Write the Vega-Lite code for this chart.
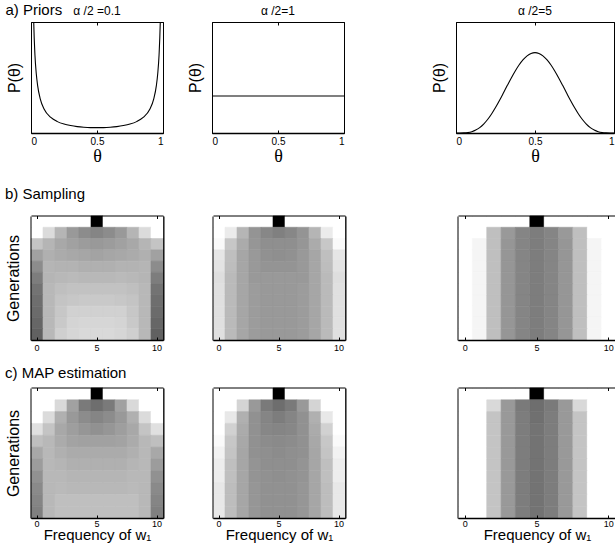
{
"$schema": "https://vega.github.io/schema/vega-lite/v6.json",
"background": "white",
"padding": {"left": 5, "top": 3, "right": 0, "bottom": 0},
"config": {
  "view": {"stroke": "black", "strokeWidth": 1},
  "font": "Liberation Sans",
  "axis": {"labelFont": "Liberation Sans", "labelFontSize": 10, "titleFont": "Liberation Sans", "titleFontWeight": "normal", "titleFontSize": 16, "domainColor": "black", "tickColor": "black", "labelColor": "black", "titleColor": "black", "grid": false, "zindex": 1},
  "axisX": {"domainWidth": 1.6, "tickSize": -3, "labelPadding": 6},
  "axisTop": {"domainWidth": 1},
  "title": {"font": "Liberation Sans", "fontWeight": "normal", "color": "black"}
},
"datasets": {
"prior01": [
{"theta":0.001,"density":25.4},{"theta":0.002,"density":13.6},{"theta":0.005,"density":6.0},{"theta":0.01,"density":3.23},{"theta":0.015,"density":2.25},{"theta":0.02,"density":1.75},{"theta":0.03,"density":1.22},{"theta":0.04,"density":0.954},{"theta":0.05,"density":0.787},{"theta":0.07,"density":0.593},{"theta":0.1,"density":0.443},{"theta":0.15,"density":0.324},{"theta":0.2,"density":0.264},{"theta":0.25,"density":0.229},{"theta":0.3,"density":0.207},{"theta":0.35,"density":0.192},{"theta":0.4,"density":0.183},{"theta":0.45,"density":0.178},{"theta":0.5,"density":0.177},{"theta":0.55,"density":0.178},{"theta":0.6,"density":0.183},{"theta":0.65,"density":0.192},{"theta":0.7,"density":0.207},{"theta":0.75,"density":0.229},{"theta":0.8,"density":0.264},{"theta":0.85,"density":0.324},{"theta":0.9,"density":0.443},{"theta":0.93,"density":0.593},{"theta":0.95,"density":0.787},{"theta":0.96,"density":0.954},{"theta":0.97,"density":1.22},{"theta":0.98,"density":1.75},{"theta":0.985,"density":2.25},{"theta":0.99,"density":3.23},{"theta":0.995,"density":6.0},{"theta":0.998,"density":13.6},{"theta":0.999,"density":25.4}
],
"prior1": [{"theta":0,"density":1},{"theta":1,"density":1}],
"prior5": [
{"theta":0,"density":0},{"theta":0.025,"density":0.0002},{"theta":0.05,"density":0.0032},{"theta":0.075,"density":0.0146},{"theta":0.1,"density":0.0413},{"theta":0.125,"density":0.0902},{"theta":0.15,"density":0.1665},{"theta":0.175,"density":0.2737},{"theta":0.2,"density":0.4129},{"theta":0.225,"density":0.5825},{"theta":0.25,"density":0.7787},{"theta":0.275,"density":0.9955},{"theta":0.3,"density":1.2252},{"theta":0.325,"density":1.4591},{"theta":0.35,"density":1.6876},{"theta":0.375,"density":1.901},{"theta":0.4,"density":2.0902},{"theta":0.425,"density":2.2468},{"theta":0.45,"density":2.364},{"theta":0.475,"density":2.4364},{"theta":0.5,"density":2.4609},{"theta":0.525,"density":2.4364},{"theta":0.55,"density":2.364},{"theta":0.575,"density":2.2468},{"theta":0.6,"density":2.0902},{"theta":0.625,"density":1.901},{"theta":0.65,"density":1.6876},{"theta":0.675,"density":1.4591},{"theta":0.7,"density":1.2252},{"theta":0.725,"density":0.9955},{"theta":0.75,"density":0.7787},{"theta":0.775,"density":0.5825},{"theta":0.8,"density":0.4129},{"theta":0.825,"density":0.2737},{"theta":0.85,"density":0.1665},{"theta":0.875,"density":0.0902},{"theta":0.9,"density":0.0413},{"theta":0.925,"density":0.0146},{"theta":0.95,"density":0.0032},{"theta":0.975,"density":0.0002},{"theta":1,"density":0}
],
"b1": [
{"g":1,"f":0,"p":0},{"g":1,"f":1,"p":0},{"g":1,"f":2,"p":0},{"g":1,"f":3,"p":0},{"g":1,"f":4,"p":0},{"g":1,"f":5,"p":1},{"g":1,"f":6,"p":0},{"g":1,"f":7,"p":0},{"g":1,"f":8,"p":0},{"g":1,"f":9,"p":0},{"g":1,"f":10,"p":0},
{"g":2,"f":0,"p":0},{"g":2,"f":1,"p":0.14},{"g":2,"f":2,"p":0.29},{"g":2,"f":3,"p":0.40},{"g":2,"f":4,"p":0.45},{"g":2,"f":5,"p":0.48},{"g":2,"f":6,"p":0.45},{"g":2,"f":7,"p":0.40},{"g":2,"f":8,"p":0.29},{"g":2,"f":9,"p":0.14},{"g":2,"f":10,"p":0},
{"g":3,"f":0,"p":0.23},{"g":3,"f":1,"p":0.29},{"g":3,"f":2,"p":0.34},{"g":3,"f":3,"p":0.37},{"g":3,"f":4,"p":0.39},{"g":3,"f":5,"p":0.40},{"g":3,"f":6,"p":0.39},{"g":3,"f":7,"p":0.37},{"g":3,"f":8,"p":0.34},{"g":3,"f":9,"p":0.29},{"g":3,"f":10,"p":0.23},
{"g":4,"f":0,"p":0.37},{"g":4,"f":1,"p":0.31},{"g":4,"f":2,"p":0.33},{"g":4,"f":3,"p":0.34},{"g":4,"f":4,"p":0.35},{"g":4,"f":5,"p":0.36},{"g":4,"f":6,"p":0.35},{"g":4,"f":7,"p":0.34},{"g":4,"f":8,"p":0.33},{"g":4,"f":9,"p":0.31},{"g":4,"f":10,"p":0.37},
{"g":5,"f":0,"p":0.45},{"g":5,"f":1,"p":0.29},{"g":5,"f":2,"p":0.30},{"g":5,"f":3,"p":0.30},{"g":5,"f":4,"p":0.31},{"g":5,"f":5,"p":0.31},{"g":5,"f":6,"p":0.31},{"g":5,"f":7,"p":0.30},{"g":5,"f":8,"p":0.30},{"g":5,"f":9,"p":0.29},{"g":5,"f":10,"p":0.45},
{"g":6,"f":0,"p":0.51},{"g":6,"f":1,"p":0.29},{"g":6,"f":2,"p":0.28},{"g":6,"f":3,"p":0.27},{"g":6,"f":4,"p":0.28},{"g":6,"f":5,"p":0.28},{"g":6,"f":6,"p":0.28},{"g":6,"f":7,"p":0.27},{"g":6,"f":8,"p":0.28},{"g":6,"f":9,"p":0.29},{"g":6,"f":10,"p":0.51},
{"g":7,"f":0,"p":0.55},{"g":7,"f":1,"p":0.28},{"g":7,"f":2,"p":0.25},{"g":7,"f":3,"p":0.24},{"g":7,"f":4,"p":0.24},{"g":7,"f":5,"p":0.24},{"g":7,"f":6,"p":0.24},{"g":7,"f":7,"p":0.24},{"g":7,"f":8,"p":0.25},{"g":7,"f":9,"p":0.28},{"g":7,"f":10,"p":0.55},
{"g":8,"f":0,"p":0.57},{"g":8,"f":1,"p":0.28},{"g":8,"f":2,"p":0.23},{"g":8,"f":3,"p":0.22},{"g":8,"f":4,"p":0.21},{"g":8,"f":5,"p":0.21},{"g":8,"f":6,"p":0.21},{"g":8,"f":7,"p":0.22},{"g":8,"f":8,"p":0.23},{"g":8,"f":9,"p":0.28},{"g":8,"f":10,"p":0.57},
{"g":9,"f":0,"p":0.58},{"g":9,"f":1,"p":0.28},{"g":9,"f":2,"p":0.22},{"g":9,"f":3,"p":0.18},{"g":9,"f":4,"p":0.18},{"g":9,"f":5,"p":0.18},{"g":9,"f":6,"p":0.18},{"g":9,"f":7,"p":0.18},{"g":9,"f":8,"p":0.22},{"g":9,"f":9,"p":0.28},{"g":9,"f":10,"p":0.58},
{"g":10,"f":0,"p":0.60},{"g":10,"f":1,"p":0.28},{"g":10,"f":2,"p":0.21},{"g":10,"f":3,"p":0.17},{"g":10,"f":4,"p":0.16},{"g":10,"f":5,"p":0.16},{"g":10,"f":6,"p":0.16},{"g":10,"f":7,"p":0.17},{"g":10,"f":8,"p":0.21},{"g":10,"f":9,"p":0.28},{"g":10,"f":10,"p":0.60},
{"g":11,"f":0,"p":0.62},{"g":11,"f":1,"p":0.28},{"g":11,"f":2,"p":0.19},{"g":11,"f":3,"p":0.16},{"g":11,"f":4,"p":0.15},{"g":11,"f":5,"p":0.15},{"g":11,"f":6,"p":0.15},{"g":11,"f":7,"p":0.16},{"g":11,"f":8,"p":0.19},{"g":11,"f":9,"p":0.28},{"g":11,"f":10,"p":0.62}
],
"b2": [
{"g":1,"f":0,"p":0},{"g":1,"f":1,"p":0},{"g":1,"f":2,"p":0},{"g":1,"f":3,"p":0},{"g":1,"f":4,"p":0},{"g":1,"f":5,"p":1},{"g":1,"f":6,"p":0},{"g":1,"f":7,"p":0},{"g":1,"f":8,"p":0},{"g":1,"f":9,"p":0},{"g":1,"f":10,"p":0},
{"g":2,"f":0,"p":0},{"g":2,"f":1,"p":0.08},{"g":2,"f":2,"p":0.29},{"g":2,"f":3,"p":0.42},{"g":2,"f":4,"p":0.47},{"g":2,"f":5,"p":0.50},{"g":2,"f":6,"p":0.47},{"g":2,"f":7,"p":0.42},{"g":2,"f":8,"p":0.29},{"g":2,"f":9,"p":0.08},{"g":2,"f":10,"p":0},
{"g":3,"f":0,"p":0.02},{"g":3,"f":1,"p":0.22},{"g":3,"f":2,"p":0.33},{"g":3,"f":3,"p":0.41},{"g":3,"f":4,"p":0.44},{"g":3,"f":5,"p":0.44},{"g":3,"f":6,"p":0.44},{"g":3,"f":7,"p":0.41},{"g":3,"f":8,"p":0.33},{"g":3,"f":9,"p":0.22},{"g":3,"f":10,"p":0.02},
{"g":4,"f":0,"p":0.10},{"g":4,"f":1,"p":0.25},{"g":4,"f":2,"p":0.35},{"g":4,"f":3,"p":0.40},{"g":4,"f":4,"p":0.43},{"g":4,"f":5,"p":0.44},{"g":4,"f":6,"p":0.43},{"g":4,"f":7,"p":0.40},{"g":4,"f":8,"p":0.35},{"g":4,"f":9,"p":0.25},{"g":4,"f":10,"p":0.10},
{"g":5,"f":0,"p":0.11},{"g":5,"f":1,"p":0.26},{"g":5,"f":2,"p":0.35},{"g":5,"f":3,"p":0.40},{"g":5,"f":4,"p":0.42},{"g":5,"f":5,"p":0.42},{"g":5,"f":6,"p":0.42},{"g":5,"f":7,"p":0.40},{"g":5,"f":8,"p":0.35},{"g":5,"f":9,"p":0.26},{"g":5,"f":10,"p":0.11},
{"g":6,"f":0,"p":0.13},{"g":6,"f":1,"p":0.27},{"g":6,"f":2,"p":0.35},{"g":6,"f":3,"p":0.40},{"g":6,"f":4,"p":0.40},{"g":6,"f":5,"p":0.40},{"g":6,"f":6,"p":0.40},{"g":6,"f":7,"p":0.40},{"g":6,"f":8,"p":0.35},{"g":6,"f":9,"p":0.27},{"g":6,"f":10,"p":0.13},
{"g":7,"f":0,"p":0.12},{"g":7,"f":1,"p":0.27},{"g":7,"f":2,"p":0.35},{"g":7,"f":3,"p":0.39},{"g":7,"f":4,"p":0.40},{"g":7,"f":5,"p":0.40},{"g":7,"f":6,"p":0.40},{"g":7,"f":7,"p":0.39},{"g":7,"f":8,"p":0.35},{"g":7,"f":9,"p":0.27},{"g":7,"f":10,"p":0.12},
{"g":8,"f":0,"p":0.12},{"g":8,"f":1,"p":0.27},{"g":8,"f":2,"p":0.35},{"g":8,"f":3,"p":0.39},{"g":8,"f":4,"p":0.40},{"g":8,"f":5,"p":0.40},{"g":8,"f":6,"p":0.40},{"g":8,"f":7,"p":0.39},{"g":8,"f":8,"p":0.35},{"g":8,"f":9,"p":0.27},{"g":8,"f":10,"p":0.12},
{"g":9,"f":0,"p":0.12},{"g":9,"f":1,"p":0.27},{"g":9,"f":2,"p":0.35},{"g":9,"f":3,"p":0.39},{"g":9,"f":4,"p":0.40},{"g":9,"f":5,"p":0.40},{"g":9,"f":6,"p":0.40},{"g":9,"f":7,"p":0.39},{"g":9,"f":8,"p":0.35},{"g":9,"f":9,"p":0.27},{"g":9,"f":10,"p":0.12},
{"g":10,"f":0,"p":0.12},{"g":10,"f":1,"p":0.27},{"g":10,"f":2,"p":0.35},{"g":10,"f":3,"p":0.39},{"g":10,"f":4,"p":0.40},{"g":10,"f":5,"p":0.40},{"g":10,"f":6,"p":0.40},{"g":10,"f":7,"p":0.39},{"g":10,"f":8,"p":0.35},{"g":10,"f":9,"p":0.27},{"g":10,"f":10,"p":0.12},
{"g":11,"f":0,"p":0.12},{"g":11,"f":1,"p":0.27},{"g":11,"f":2,"p":0.35},{"g":11,"f":3,"p":0.39},{"g":11,"f":4,"p":0.40},{"g":11,"f":5,"p":0.40},{"g":11,"f":6,"p":0.40},{"g":11,"f":7,"p":0.39},{"g":11,"f":8,"p":0.35},{"g":11,"f":9,"p":0.27},{"g":11,"f":10,"p":0.12}
],
"b3": [
{"g":1,"f":0,"p":0},{"g":1,"f":1,"p":0},{"g":1,"f":2,"p":0},{"g":1,"f":3,"p":0},{"g":1,"f":4,"p":0},{"g":1,"f":5,"p":1},{"g":1,"f":6,"p":0},{"g":1,"f":7,"p":0},{"g":1,"f":8,"p":0},{"g":1,"f":9,"p":0},{"g":1,"f":10,"p":0},
{"g":2,"f":0,"p":0},{"g":2,"f":1,"p":0},{"g":2,"f":2,"p":0.25},{"g":2,"f":3,"p":0.40},{"g":2,"f":4,"p":0.48},{"g":2,"f":5,"p":0.51},{"g":2,"f":6,"p":0.48},{"g":2,"f":7,"p":0.40},{"g":2,"f":8,"p":0.25},{"g":2,"f":9,"p":0},{"g":2,"f":10,"p":0},
{"g":3,"f":0,"p":0},{"g":3,"f":1,"p":0.04},{"g":3,"f":2,"p":0.25},{"g":3,"f":3,"p":0.41},{"g":3,"f":4,"p":0.48},{"g":3,"f":5,"p":0.51},{"g":3,"f":6,"p":0.48},{"g":3,"f":7,"p":0.41},{"g":3,"f":8,"p":0.25},{"g":3,"f":9,"p":0.04},{"g":3,"f":10,"p":0},
{"g":4,"f":0,"p":0},{"g":4,"f":1,"p":0.04},{"g":4,"f":2,"p":0.25},{"g":4,"f":3,"p":0.41},{"g":4,"f":4,"p":0.48},{"g":4,"f":5,"p":0.51},{"g":4,"f":6,"p":0.48},{"g":4,"f":7,"p":0.41},{"g":4,"f":8,"p":0.25},{"g":4,"f":9,"p":0.04},{"g":4,"f":10,"p":0},
{"g":5,"f":0,"p":0},{"g":5,"f":1,"p":0.04},{"g":5,"f":2,"p":0.25},{"g":5,"f":3,"p":0.41},{"g":5,"f":4,"p":0.48},{"g":5,"f":5,"p":0.51},{"g":5,"f":6,"p":0.48},{"g":5,"f":7,"p":0.41},{"g":5,"f":8,"p":0.25},{"g":5,"f":9,"p":0.04},{"g":5,"f":10,"p":0},
{"g":6,"f":0,"p":0},{"g":6,"f":1,"p":0.04},{"g":6,"f":2,"p":0.25},{"g":6,"f":3,"p":0.41},{"g":6,"f":4,"p":0.48},{"g":6,"f":5,"p":0.51},{"g":6,"f":6,"p":0.48},{"g":6,"f":7,"p":0.41},{"g":6,"f":8,"p":0.25},{"g":6,"f":9,"p":0.04},{"g":6,"f":10,"p":0},
{"g":7,"f":0,"p":0},{"g":7,"f":1,"p":0.04},{"g":7,"f":2,"p":0.25},{"g":7,"f":3,"p":0.41},{"g":7,"f":4,"p":0.48},{"g":7,"f":5,"p":0.51},{"g":7,"f":6,"p":0.48},{"g":7,"f":7,"p":0.41},{"g":7,"f":8,"p":0.25},{"g":7,"f":9,"p":0.04},{"g":7,"f":10,"p":0},
{"g":8,"f":0,"p":0},{"g":8,"f":1,"p":0.04},{"g":8,"f":2,"p":0.25},{"g":8,"f":3,"p":0.41},{"g":8,"f":4,"p":0.48},{"g":8,"f":5,"p":0.51},{"g":8,"f":6,"p":0.48},{"g":8,"f":7,"p":0.41},{"g":8,"f":8,"p":0.25},{"g":8,"f":9,"p":0.04},{"g":8,"f":10,"p":0},
{"g":9,"f":0,"p":0},{"g":9,"f":1,"p":0.04},{"g":9,"f":2,"p":0.25},{"g":9,"f":3,"p":0.41},{"g":9,"f":4,"p":0.48},{"g":9,"f":5,"p":0.51},{"g":9,"f":6,"p":0.48},{"g":9,"f":7,"p":0.41},{"g":9,"f":8,"p":0.25},{"g":9,"f":9,"p":0.04},{"g":9,"f":10,"p":0},
{"g":10,"f":0,"p":0},{"g":10,"f":1,"p":0.04},{"g":10,"f":2,"p":0.25},{"g":10,"f":3,"p":0.41},{"g":10,"f":4,"p":0.48},{"g":10,"f":5,"p":0.51},{"g":10,"f":6,"p":0.48},{"g":10,"f":7,"p":0.41},{"g":10,"f":8,"p":0.25},{"g":10,"f":9,"p":0.04},{"g":10,"f":10,"p":0},
{"g":11,"f":0,"p":0},{"g":11,"f":1,"p":0.04},{"g":11,"f":2,"p":0.25},{"g":11,"f":3,"p":0.41},{"g":11,"f":4,"p":0.48},{"g":11,"f":5,"p":0.51},{"g":11,"f":6,"p":0.48},{"g":11,"f":7,"p":0.41},{"g":11,"f":8,"p":0.25},{"g":11,"f":9,"p":0.04},{"g":11,"f":10,"p":0}
],
"c1": [
{"g":1,"f":0,"p":0},{"g":1,"f":1,"p":0},{"g":1,"f":2,"p":0},{"g":1,"f":3,"p":0},{"g":1,"f":4,"p":0},{"g":1,"f":5,"p":1},{"g":1,"f":6,"p":0},{"g":1,"f":7,"p":0},{"g":1,"f":8,"p":0},{"g":1,"f":9,"p":0},{"g":1,"f":10,"p":0},
{"g":2,"f":0,"p":0},{"g":2,"f":1,"p":0},{"g":2,"f":2,"p":0.15},{"g":2,"f":3,"p":0.37},{"g":2,"f":4,"p":0.52},{"g":2,"f":5,"p":0.57},{"g":2,"f":6,"p":0.52},{"g":2,"f":7,"p":0.37},{"g":2,"f":8,"p":0.15},{"g":2,"f":9,"p":0},{"g":2,"f":10,"p":0},
{"g":3,"f":0,"p":0},{"g":3,"f":1,"p":0.14},{"g":3,"f":2,"p":0.31},{"g":3,"f":3,"p":0.40},{"g":3,"f":4,"p":0.45},{"g":3,"f":5,"p":0.48},{"g":3,"f":6,"p":0.45},{"g":3,"f":7,"p":0.40},{"g":3,"f":8,"p":0.31},{"g":3,"f":9,"p":0.14},{"g":3,"f":10,"p":0},
{"g":4,"f":0,"p":0.12},{"g":4,"f":1,"p":0.23},{"g":4,"f":2,"p":0.34},{"g":4,"f":3,"p":0.38},{"g":4,"f":4,"p":0.41},{"g":4,"f":5,"p":0.43},{"g":4,"f":6,"p":0.41},{"g":4,"f":7,"p":0.38},{"g":4,"f":8,"p":0.34},{"g":4,"f":9,"p":0.23},{"g":4,"f":10,"p":0.12},
{"g":5,"f":0,"p":0.25},{"g":5,"f":1,"p":0.28},{"g":5,"f":2,"p":0.33},{"g":5,"f":3,"p":0.36},{"g":5,"f":4,"p":0.37},{"g":5,"f":5,"p":0.37},{"g":5,"f":6,"p":0.37},{"g":5,"f":7,"p":0.36},{"g":5,"f":8,"p":0.33},{"g":5,"f":9,"p":0.28},{"g":5,"f":10,"p":0.25},
{"g":6,"f":0,"p":0.34},{"g":6,"f":1,"p":0.28},{"g":6,"f":2,"p":0.31},{"g":6,"f":3,"p":0.33},{"g":6,"f":4,"p":0.33},{"g":6,"f":5,"p":0.33},{"g":6,"f":6,"p":0.33},{"g":6,"f":7,"p":0.33},{"g":6,"f":8,"p":0.31},{"g":6,"f":9,"p":0.28},{"g":6,"f":10,"p":0.34},
{"g":7,"f":0,"p":0.39},{"g":7,"f":1,"p":0.28},{"g":7,"f":2,"p":0.29},{"g":7,"f":3,"p":0.31},{"g":7,"f":4,"p":0.31},{"g":7,"f":5,"p":0.31},{"g":7,"f":6,"p":0.31},{"g":7,"f":7,"p":0.31},{"g":7,"f":8,"p":0.29},{"g":7,"f":9,"p":0.28},{"g":7,"f":10,"p":0.39},
{"g":8,"f":0,"p":0.43},{"g":8,"f":1,"p":0.28},{"g":8,"f":2,"p":0.28},{"g":8,"f":3,"p":0.29},{"g":8,"f":4,"p":0.29},{"g":8,"f":5,"p":0.29},{"g":8,"f":6,"p":0.29},{"g":8,"f":7,"p":0.29},{"g":8,"f":8,"p":0.28},{"g":8,"f":9,"p":0.28},{"g":8,"f":10,"p":0.43},
{"g":9,"f":0,"p":0.46},{"g":9,"f":1,"p":0.28},{"g":9,"f":2,"p":0.27},{"g":9,"f":3,"p":0.28},{"g":9,"f":4,"p":0.28},{"g":9,"f":5,"p":0.28},{"g":9,"f":6,"p":0.28},{"g":9,"f":7,"p":0.28},{"g":9,"f":8,"p":0.27},{"g":9,"f":9,"p":0.28},{"g":9,"f":10,"p":0.46},
{"g":10,"f":0,"p":0.48},{"g":10,"f":1,"p":0.28},{"g":10,"f":2,"p":0.25},{"g":10,"f":3,"p":0.25},{"g":10,"f":4,"p":0.25},{"g":10,"f":5,"p":0.25},{"g":10,"f":6,"p":0.25},{"g":10,"f":7,"p":0.25},{"g":10,"f":8,"p":0.25},{"g":10,"f":9,"p":0.28},{"g":10,"f":10,"p":0.48},
{"g":11,"f":0,"p":0.50},{"g":11,"f":1,"p":0.28},{"g":11,"f":2,"p":0.25},{"g":11,"f":3,"p":0.25},{"g":11,"f":4,"p":0.25},{"g":11,"f":5,"p":0.25},{"g":11,"f":6,"p":0.25},{"g":11,"f":7,"p":0.25},{"g":11,"f":8,"p":0.25},{"g":11,"f":9,"p":0.28},{"g":11,"f":10,"p":0.50}
],
"c2": [
{"g":1,"f":0,"p":0},{"g":1,"f":1,"p":0},{"g":1,"f":2,"p":0},{"g":1,"f":3,"p":0},{"g":1,"f":4,"p":0},{"g":1,"f":5,"p":1},{"g":1,"f":6,"p":0},{"g":1,"f":7,"p":0},{"g":1,"f":8,"p":0},{"g":1,"f":9,"p":0},{"g":1,"f":10,"p":0},
{"g":2,"f":0,"p":0},{"g":2,"f":1,"p":0},{"g":2,"f":2,"p":0.17},{"g":2,"f":3,"p":0.40},{"g":2,"f":4,"p":0.52},{"g":2,"f":5,"p":0.57},{"g":2,"f":6,"p":0.52},{"g":2,"f":7,"p":0.40},{"g":2,"f":8,"p":0.17},{"g":2,"f":9,"p":0},{"g":2,"f":10,"p":0},
{"g":3,"f":0,"p":0},{"g":3,"f":1,"p":0.09},{"g":3,"f":2,"p":0.31},{"g":3,"f":3,"p":0.43},{"g":3,"f":4,"p":0.48},{"g":3,"f":5,"p":0.51},{"g":3,"f":6,"p":0.48},{"g":3,"f":7,"p":0.43},{"g":3,"f":8,"p":0.31},{"g":3,"f":9,"p":0.09},{"g":3,"f":10,"p":0},
{"g":4,"f":0,"p":0},{"g":4,"f":1,"p":0.18},{"g":4,"f":2,"p":0.33},{"g":4,"f":3,"p":0.43},{"g":4,"f":4,"p":0.47},{"g":4,"f":5,"p":0.48},{"g":4,"f":6,"p":0.47},{"g":4,"f":7,"p":0.43},{"g":4,"f":8,"p":0.33},{"g":4,"f":9,"p":0.18},{"g":4,"f":10,"p":0},
{"g":5,"f":0,"p":0.02},{"g":5,"f":1,"p":0.22},{"g":5,"f":2,"p":0.34},{"g":5,"f":3,"p":0.43},{"g":5,"f":4,"p":0.45},{"g":5,"f":5,"p":0.46},{"g":5,"f":6,"p":0.45},{"g":5,"f":7,"p":0.43},{"g":5,"f":8,"p":0.34},{"g":5,"f":9,"p":0.22},{"g":5,"f":10,"p":0.02},
{"g":6,"f":0,"p":0.05},{"g":6,"f":1,"p":0.23},{"g":6,"f":2,"p":0.35},{"g":6,"f":3,"p":0.43},{"g":6,"f":4,"p":0.44},{"g":6,"f":5,"p":0.45},{"g":6,"f":6,"p":0.44},{"g":6,"f":7,"p":0.43},{"g":6,"f":8,"p":0.35},{"g":6,"f":9,"p":0.23},{"g":6,"f":10,"p":0.05},
{"g":7,"f":0,"p":0.07},{"g":7,"f":1,"p":0.25},{"g":7,"f":2,"p":0.35},{"g":7,"f":3,"p":0.42},{"g":7,"f":4,"p":0.44},{"g":7,"f":5,"p":0.44},{"g":7,"f":6,"p":0.44},{"g":7,"f":7,"p":0.42},{"g":7,"f":8,"p":0.35},{"g":7,"f":9,"p":0.25},{"g":7,"f":10,"p":0.07},
{"g":8,"f":0,"p":0.07},{"g":8,"f":1,"p":0.25},{"g":8,"f":2,"p":0.35},{"g":8,"f":3,"p":0.42},{"g":8,"f":4,"p":0.43},{"g":8,"f":5,"p":0.44},{"g":8,"f":6,"p":0.43},{"g":8,"f":7,"p":0.42},{"g":8,"f":8,"p":0.35},{"g":8,"f":9,"p":0.25},{"g":8,"f":10,"p":0.07},
{"g":9,"f":0,"p":0.09},{"g":9,"f":1,"p":0.26},{"g":9,"f":2,"p":0.35},{"g":9,"f":3,"p":0.41},{"g":9,"f":4,"p":0.43},{"g":9,"f":5,"p":0.43},{"g":9,"f":6,"p":0.43},{"g":9,"f":7,"p":0.41},{"g":9,"f":8,"p":0.35},{"g":9,"f":9,"p":0.26},{"g":9,"f":10,"p":0.09},
{"g":10,"f":0,"p":0.09},{"g":10,"f":1,"p":0.26},{"g":10,"f":2,"p":0.35},{"g":10,"f":3,"p":0.41},{"g":10,"f":4,"p":0.43},{"g":10,"f":5,"p":0.43},{"g":10,"f":6,"p":0.43},{"g":10,"f":7,"p":0.41},{"g":10,"f":8,"p":0.35},{"g":10,"f":9,"p":0.26},{"g":10,"f":10,"p":0.09},
{"g":11,"f":0,"p":0.09},{"g":11,"f":1,"p":0.26},{"g":11,"f":2,"p":0.35},{"g":11,"f":3,"p":0.41},{"g":11,"f":4,"p":0.43},{"g":11,"f":5,"p":0.43},{"g":11,"f":6,"p":0.43},{"g":11,"f":7,"p":0.41},{"g":11,"f":8,"p":0.35},{"g":11,"f":9,"p":0.26},{"g":11,"f":10,"p":0.09}
],
"c3": [
{"g":1,"f":0,"p":0},{"g":1,"f":1,"p":0},{"g":1,"f":2,"p":0},{"g":1,"f":3,"p":0},{"g":1,"f":4,"p":0},{"g":1,"f":5,"p":1},{"g":1,"f":6,"p":0},{"g":1,"f":7,"p":0},{"g":1,"f":8,"p":0},{"g":1,"f":9,"p":0},{"g":1,"f":10,"p":0},
{"g":2,"f":0,"p":0},{"g":2,"f":1,"p":0},{"g":2,"f":2,"p":0.15},{"g":2,"f":3,"p":0.40},{"g":2,"f":4,"p":0.52},{"g":2,"f":5,"p":0.57},{"g":2,"f":6,"p":0.52},{"g":2,"f":7,"p":0.40},{"g":2,"f":8,"p":0.15},{"g":2,"f":9,"p":0},{"g":2,"f":10,"p":0},
{"g":3,"f":0,"p":0},{"g":3,"f":1,"p":0},{"g":3,"f":2,"p":0.23},{"g":3,"f":3,"p":0.40},{"g":3,"f":4,"p":0.51},{"g":3,"f":5,"p":0.56},{"g":3,"f":6,"p":0.51},{"g":3,"f":7,"p":0.40},{"g":3,"f":8,"p":0.23},{"g":3,"f":9,"p":0},{"g":3,"f":10,"p":0},
{"g":4,"f":0,"p":0},{"g":4,"f":1,"p":0},{"g":4,"f":2,"p":0.23},{"g":4,"f":3,"p":0.40},{"g":4,"f":4,"p":0.51},{"g":4,"f":5,"p":0.55},{"g":4,"f":6,"p":0.51},{"g":4,"f":7,"p":0.40},{"g":4,"f":8,"p":0.23},{"g":4,"f":9,"p":0},{"g":4,"f":10,"p":0},
{"g":5,"f":0,"p":0},{"g":5,"f":1,"p":0},{"g":5,"f":2,"p":0.23},{"g":5,"f":3,"p":0.40},{"g":5,"f":4,"p":0.51},{"g":5,"f":5,"p":0.55},{"g":5,"f":6,"p":0.51},{"g":5,"f":7,"p":0.40},{"g":5,"f":8,"p":0.23},{"g":5,"f":9,"p":0},{"g":5,"f":10,"p":0},
{"g":6,"f":0,"p":0},{"g":6,"f":1,"p":0},{"g":6,"f":2,"p":0.23},{"g":6,"f":3,"p":0.40},{"g":6,"f":4,"p":0.51},{"g":6,"f":5,"p":0.55},{"g":6,"f":6,"p":0.51},{"g":6,"f":7,"p":0.40},{"g":6,"f":8,"p":0.23},{"g":6,"f":9,"p":0},{"g":6,"f":10,"p":0},
{"g":7,"f":0,"p":0},{"g":7,"f":1,"p":0},{"g":7,"f":2,"p":0.23},{"g":7,"f":3,"p":0.40},{"g":7,"f":4,"p":0.51},{"g":7,"f":5,"p":0.55},{"g":7,"f":6,"p":0.51},{"g":7,"f":7,"p":0.40},{"g":7,"f":8,"p":0.23},{"g":7,"f":9,"p":0},{"g":7,"f":10,"p":0},
{"g":8,"f":0,"p":0},{"g":8,"f":1,"p":0},{"g":8,"f":2,"p":0.23},{"g":8,"f":3,"p":0.40},{"g":8,"f":4,"p":0.51},{"g":8,"f":5,"p":0.55},{"g":8,"f":6,"p":0.51},{"g":8,"f":7,"p":0.40},{"g":8,"f":8,"p":0.23},{"g":8,"f":9,"p":0},{"g":8,"f":10,"p":0},
{"g":9,"f":0,"p":0},{"g":9,"f":1,"p":0},{"g":9,"f":2,"p":0.23},{"g":9,"f":3,"p":0.40},{"g":9,"f":4,"p":0.51},{"g":9,"f":5,"p":0.55},{"g":9,"f":6,"p":0.51},{"g":9,"f":7,"p":0.40},{"g":9,"f":8,"p":0.23},{"g":9,"f":9,"p":0},{"g":9,"f":10,"p":0},
{"g":10,"f":0,"p":0},{"g":10,"f":1,"p":0},{"g":10,"f":2,"p":0.23},{"g":10,"f":3,"p":0.40},{"g":10,"f":4,"p":0.51},{"g":10,"f":5,"p":0.55},{"g":10,"f":6,"p":0.51},{"g":10,"f":7,"p":0.40},{"g":10,"f":8,"p":0.23},{"g":10,"f":9,"p":0},{"g":10,"f":10,"p":0},
{"g":11,"f":0,"p":0},{"g":11,"f":1,"p":0},{"g":11,"f":2,"p":0.23},{"g":11,"f":3,"p":0.40},{"g":11,"f":4,"p":0.51},{"g":11,"f":5,"p":0.55},{"g":11,"f":6,"p":0.51},{"g":11,"f":7,"p":0.40},{"g":11,"f":8,"p":0.23},{"g":11,"f":9,"p":0},{"g":11,"f":10,"p":0}
]
},
"spacing": 20,
"vconcat": [
{
  "title": {"text": "a) Priors", "anchor": "start", "fontSize": 15, "offset": -14},
  "spacing": 85,
  "hconcat": [
    {"spacing": 22, "hconcat": [
      {"width": 132, "height": 111, "title": {"text": "α /2 =0.1", "fontSize": 12, "offset": 4},
       "data": {"name": "prior01"},
       "layer": [
         {"mark": {"type": "line", "color": "black", "strokeWidth": 1.1, "clip": true, "interpolate": "monotone"},
          "encoding": {
            "x": {"field": "theta", "type": "quantitative", "scale": {"domain": [0, 1], "nice": false}, "axis": {"values": [0, 0.5, 1], "format": "~g", "title": "θ", "titleFont": "Liberation Serif", "titleFontSize": 18, "titlePadding": 1}},
            "y": {"field": "density", "type": "quantitative", "scale": {"domain": [0.1, 1.7], "nice": false, "zero": false}, "axis": {"title": "P(θ)", "labels": false, "ticks": false, "domain": false, "titlePadding": 9}}
          }},
         {"mark": {"type": "line", "opacity": 0, "clip": true},
          "encoding": {
            "x": {"field": "theta", "type": "quantitative", "axis": {"orient": "top", "values": [0, 0.5, 1], "labels": false, "title": null}},
            "y": {"field": "density", "type": "quantitative"}
          }}
       ],
       "resolve": {"axis": {"x": "independent"}}
      },
      {"width": 132, "height": 111, "title": {"text": "α /2=1", "fontSize": 12, "offset": 4},
       "data": {"name": "prior1"},
       "layer": [
         {"mark": {"type": "line", "color": "black", "strokeWidth": 1.1, "clip": true},
          "encoding": {
            "x": {"field": "theta", "type": "quantitative", "scale": {"domain": [0, 1], "nice": false}, "axis": {"values": [0, 0.5, 1], "format": "~g", "title": "θ", "titleFont": "Liberation Serif", "titleFontSize": 18, "titlePadding": 1}},
            "y": {"field": "density", "type": "quantitative", "scale": {"domain": [0, 3], "nice": false, "zero": false}, "axis": {"title": "P(θ)", "labels": false, "ticks": false, "domain": false, "titlePadding": 9}}
          }},
         {"mark": {"type": "line", "opacity": 0, "clip": true},
          "encoding": {
            "x": {"field": "theta", "type": "quantitative", "axis": {"orient": "top", "values": [0, 0.5, 1], "labels": false, "title": null}},
            "y": {"field": "density", "type": "quantitative"}
          }}
       ],
       "resolve": {"axis": {"x": "independent"}}
      }
    ]},
    {"width": 158, "height": 111, "title": {"text": "α /2=5", "fontSize": 12, "offset": 4},
     "data": {"name": "prior5"},
     "layer": [
       {"mark": {"type": "line", "color": "black", "strokeWidth": 1.1, "clip": true, "interpolate": "monotone"},
        "encoding": {
          "x": {"field": "theta", "type": "quantitative", "scale": {"domain": [0, 1], "nice": false}, "axis": {"values": [0, 0.5, 1], "format": "~g", "title": "θ", "titleFont": "Liberation Serif", "titleFontSize": 18, "titlePadding": 1}},
          "y": {"field": "density", "type": "quantitative", "scale": {"domain": [0, 3.4], "nice": false, "zero": false}, "axis": {"title": "P(θ)", "labels": false, "ticks": false, "domain": false, "titlePadding": 9}}
        }},
       {"mark": {"type": "line", "opacity": 0, "clip": true},
        "encoding": {
          "x": {"field": "theta", "type": "quantitative", "axis": {"orient": "top", "values": [0, 0.5, 1], "labels": false, "title": null}},
          "y": {"field": "density", "type": "quantitative"}
        }}
     ],
     "resolve": {"axis": {"x": "independent"}}
    }
  ]
},
{
  "spacing": 12,
  "vconcat": [
  {
    "title": {"text": "b) Sampling", "anchor": "start", "fontSize": 15, "offset": 13},
    "spacing": 111,
    "hconcat": [
      {"spacing": 48, "hconcat": [
        {"width": 132, "height": 124, "data": {"name": "b1"},
         "encoding": {
           "color": {"field": "p", "type": "quantitative", "scale": {"domain": [0, 1], "range": ["#ffffff", "#000000"], "interpolate": "rgb"}, "legend": null},
           "stroke": {"field": "p", "type": "quantitative", "scale": {"domain": [0, 1], "range": ["#ffffff", "#000000"], "interpolate": "rgb"}, "legend": null}
         },
         "layer": [
           {"mark": {"type": "rect", "strokeWidth": 0.6},
            "encoding": {
              "x": {"field": "f", "type": "ordinal", "scale": {"domain": [0,1,2,3,4,5,6,7,8,9,10], "padding": 0}, "axis": {"values": [0, 5, 10], "labelAngle": 0, "title": null, "labelFontSize": 9, "zindex": 1}},
              "y": {"field": "g", "type": "ordinal", "scale": {"domain": [1,2,3,4,5,6,7,8,9,10,11], "padding": 0}, "axis": {"title": "Generations", "labels": false, "ticks": false, "domain": true, "domainWidth": 1, "offset": 0.5, "titlePadding": 9, "zindex": 1}}
            }},
           {"mark": {"type": "rect", "opacity": 0},
            "encoding": {
              "x": {"field": "f", "type": "ordinal", "axis": {"orient": "top", "values": [0, 5, 10], "labels": false, "title": null, "offset": 0.5, "zindex": 1}},
              "y": {"field": "g", "type": "ordinal", "axis": {"orient": "right", "labels": false, "ticks": false, "title": null, "domainWidth": 1, "offset": 0.5, "zindex": 1}}
            }}
         ],
         "resolve": {"axis": {"x": "independent", "y": "independent"}}
        },
        {"width": 132, "height": 124, "data": {"name": "b2"},
         "encoding": {
           "color": {"field": "p", "type": "quantitative", "scale": {"domain": [0, 1], "range": ["#ffffff", "#000000"], "interpolate": "rgb"}, "legend": null},
           "stroke": {"field": "p", "type": "quantitative", "scale": {"domain": [0, 1], "range": ["#ffffff", "#000000"], "interpolate": "rgb"}, "legend": null}
         },
         "layer": [
           {"mark": {"type": "rect", "strokeWidth": 0.6},
            "encoding": {
              "x": {"field": "f", "type": "ordinal", "scale": {"domain": [0,1,2,3,4,5,6,7,8,9,10], "padding": 0}, "axis": {"values": [0, 5, 10], "labelAngle": 0, "title": null, "labelFontSize": 9, "zindex": 1}},
              "y": {"field": "g", "type": "ordinal", "scale": {"domain": [1,2,3,4,5,6,7,8,9,10,11], "padding": 0}, "axis": {"title": null, "labels": false, "ticks": false, "domain": true, "domainWidth": 1, "offset": 0.5, "zindex": 1}}
            }},
           {"mark": {"type": "rect", "opacity": 0},
            "encoding": {
              "x": {"field": "f", "type": "ordinal", "axis": {"orient": "top", "values": [0, 5, 10], "labels": false, "title": null, "offset": 0.5, "zindex": 1}},
              "y": {"field": "g", "type": "ordinal", "axis": {"orient": "right", "labels": false, "ticks": false, "title": null, "domainWidth": 1, "offset": 0.5, "zindex": 1}}
            }}
         ],
         "resolve": {"axis": {"x": "independent", "y": "independent"}}
        }
      ]},
      {"width": 158, "height": 124, "data": {"name": "b3"},
       "encoding": {
         "color": {"field": "p", "type": "quantitative", "scale": {"domain": [0, 1], "range": ["#ffffff", "#000000"], "interpolate": "rgb"}, "legend": null},
         "stroke": {"field": "p", "type": "quantitative", "scale": {"domain": [0, 1], "range": ["#ffffff", "#000000"], "interpolate": "rgb"}, "legend": null}
       },
       "layer": [
         {"mark": {"type": "rect", "strokeWidth": 0.6},
          "encoding": {
            "x": {"field": "f", "type": "ordinal", "scale": {"domain": [0,1,2,3,4,5,6,7,8,9,10], "padding": 0}, "axis": {"values": [0, 5, 10], "labelAngle": 0, "title": null, "labelFontSize": 9, "zindex": 1}},
            "y": {"field": "g", "type": "ordinal", "scale": {"domain": [1,2,3,4,5,6,7,8,9,10,11], "padding": 0}, "axis": {"title": null, "labels": false, "ticks": false, "domain": true, "domainWidth": 1, "offset": 0.5, "zindex": 1}}
          }},
         {"mark": {"type": "rect", "opacity": 0},
          "encoding": {
            "x": {"field": "f", "type": "ordinal", "axis": {"orient": "top", "values": [0, 5, 10], "labels": false, "title": null, "offset": 0.5, "zindex": 1}},
            "y": {"field": "g", "type": "ordinal", "axis": {"orient": "right", "labels": false, "ticks": false, "title": null, "domainWidth": 1, "offset": 0.5, "zindex": 1}}
          }}
       ],
       "resolve": {"axis": {"x": "independent", "y": "independent"}}
      }
    ]
  },
  {
    "title": {"text": "c) MAP estimation", "anchor": "start", "fontSize": 15, "offset": 6},
    "spacing": 111,
    "hconcat": [
      {"spacing": 48, "hconcat": [
        {"width": 132, "height": 130, "data": {"name": "c1"},
         "encoding": {
           "color": {"field": "p", "type": "quantitative", "scale": {"domain": [0, 1], "range": ["#ffffff", "#000000"], "interpolate": "rgb"}, "legend": null},
           "stroke": {"field": "p", "type": "quantitative", "scale": {"domain": [0, 1], "range": ["#ffffff", "#000000"], "interpolate": "rgb"}, "legend": null}
         },
         "layer": [
           {"mark": {"type": "rect", "strokeWidth": 0.6},
            "encoding": {
              "x": {"field": "f", "type": "ordinal", "scale": {"domain": [0,1,2,3,4,5,6,7,8,9,10], "padding": 0}, "axis": {"values": [0, 5, 10], "labelAngle": 0, "title": "Frequency of w₁", "titleFontSize": 15, "titlePadding": -1, "labelPadding": 4, "labelFontSize": 9, "zindex": 1}},
              "y": {"field": "g", "type": "ordinal", "scale": {"domain": [1,2,3,4,5,6,7,8,9,10,11], "padding": 0}, "axis": {"title": "Generations", "labels": false, "ticks": false, "domain": true, "domainWidth": 1, "offset": 0.5, "titlePadding": 9, "zindex": 1}}
            }},
           {"mark": {"type": "rect", "opacity": 0},
            "encoding": {
              "x": {"field": "f", "type": "ordinal", "axis": {"orient": "top", "values": [0, 5, 10], "labels": false, "title": null, "offset": 0.5, "zindex": 1}},
              "y": {"field": "g", "type": "ordinal", "axis": {"orient": "right", "labels": false, "ticks": false, "title": null, "domainWidth": 1, "offset": 0.5, "zindex": 1}}
            }}
         ],
         "resolve": {"axis": {"x": "independent", "y": "independent"}}
        },
        {"width": 132, "height": 130, "data": {"name": "c2"},
         "encoding": {
           "color": {"field": "p", "type": "quantitative", "scale": {"domain": [0, 1], "range": ["#ffffff", "#000000"], "interpolate": "rgb"}, "legend": null},
           "stroke": {"field": "p", "type": "quantitative", "scale": {"domain": [0, 1], "range": ["#ffffff", "#000000"], "interpolate": "rgb"}, "legend": null}
         },
         "layer": [
           {"mark": {"type": "rect", "strokeWidth": 0.6},
            "encoding": {
              "x": {"field": "f", "type": "ordinal", "scale": {"domain": [0,1,2,3,4,5,6,7,8,9,10], "padding": 0}, "axis": {"values": [0, 5, 10], "labelAngle": 0, "title": "Frequency of w₁", "titleFontSize": 15, "titlePadding": -1, "labelPadding": 4, "labelFontSize": 9, "zindex": 1}},
              "y": {"field": "g", "type": "ordinal", "scale": {"domain": [1,2,3,4,5,6,7,8,9,10,11], "padding": 0}, "axis": {"title": null, "labels": false, "ticks": false, "domain": true, "domainWidth": 1, "offset": 0.5, "zindex": 1}}
            }},
           {"mark": {"type": "rect", "opacity": 0},
            "encoding": {
              "x": {"field": "f", "type": "ordinal", "axis": {"orient": "top", "values": [0, 5, 10], "labels": false, "title": null, "offset": 0.5, "zindex": 1}},
              "y": {"field": "g", "type": "ordinal", "axis": {"orient": "right", "labels": false, "ticks": false, "title": null, "domainWidth": 1, "offset": 0.5, "zindex": 1}}
            }}
         ],
         "resolve": {"axis": {"x": "independent", "y": "independent"}}
        }
      ]},
      {"width": 158, "height": 130, "data": {"name": "c3"},
       "encoding": {
         "color": {"field": "p", "type": "quantitative", "scale": {"domain": [0, 1], "range": ["#ffffff", "#000000"], "interpolate": "rgb"}, "legend": null},
         "stroke": {"field": "p", "type": "quantitative", "scale": {"domain": [0, 1], "range": ["#ffffff", "#000000"], "interpolate": "rgb"}, "legend": null}
       },
       "layer": [
         {"mark": {"type": "rect", "strokeWidth": 0.6},
          "encoding": {
            "x": {"field": "f", "type": "ordinal", "scale": {"domain": [0,1,2,3,4,5,6,7,8,9,10], "padding": 0}, "axis": {"values": [0, 5, 10], "labelAngle": 0, "title": "Frequency of w₁", "titleFontSize": 15, "titlePadding": -1, "labelPadding": 4, "labelFontSize": 9, "zindex": 1}},
            "y": {"field": "g", "type": "ordinal", "scale": {"domain": [1,2,3,4,5,6,7,8,9,10,11], "padding": 0}, "axis": {"title": null, "labels": false, "ticks": false, "domain": true, "domainWidth": 1, "offset": 0.5, "zindex": 1}}
          }},
         {"mark": {"type": "rect", "opacity": 0},
          "encoding": {
            "x": {"field": "f", "type": "ordinal", "axis": {"orient": "top", "values": [0, 5, 10], "labels": false, "title": null, "offset": 0.5, "zindex": 1}},
            "y": {"field": "g", "type": "ordinal", "axis": {"orient": "right", "labels": false, "ticks": false, "title": null, "domainWidth": 1, "offset": 0.5, "zindex": 1}}
          }}
       ],
       "resolve": {"axis": {"x": "independent", "y": "independent"}}
      }
    ]
  }
  ]
}
]
}
